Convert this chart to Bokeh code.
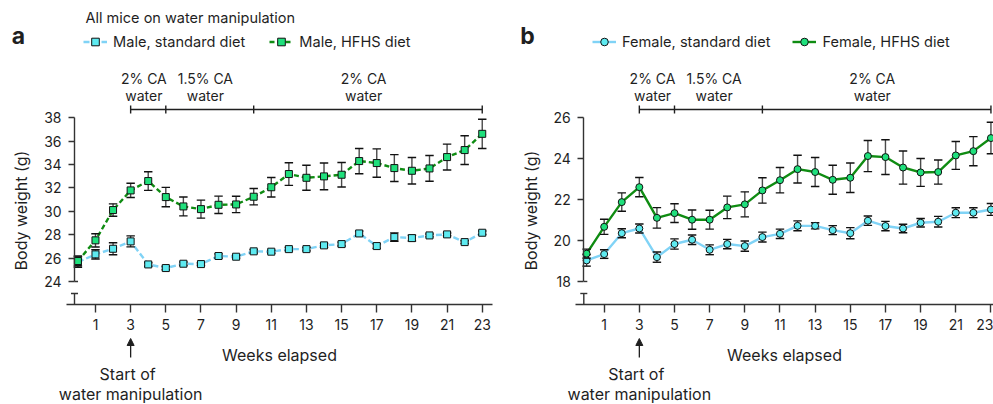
import numpy as np
from bokeh.plotting import figure
from bokeh.models import Range1d, LinearAxis, FixedTicker, Legend, LegendItem, Arrow, NormalHead
from bokeh.layouts import row
from bokeh.embed import file_html
from bokeh.resources import INLINE
from bokeh.core.properties import value

# ---------------- data ----------------
weeks = list(range(24))
x_ticks = list(range(1, 24, 2))
male_ticks = list(range(24, 39, 2))
female_ticks = list(range(18, 27, 2))

phase_starts = [3, 5, 10]
phase_ends = [5, 10, 23]
phase_line1 = ["2% CA", "1.5% CA", "2% CA"]
phase_line2 = ["water", "water", "water"]
water_start_week = 3

male_std = [25.66, 26.32, 26.80, 27.43, 25.46, 25.15, 25.52, 25.49, 26.18, 26.12, 26.58, 26.55,
            26.77, 26.77, 27.09, 27.20, 28.11, 27.03, 27.80, 27.71, 27.94, 28.03, 27.37, 28.17]
male_std_err = [0.45, 0.40, 0.51, 0.47, 0.15, 0.15, 0.15, 0.12, 0.18, 0.12, 0.15, 0.13,
                0.15, 0.15, 0.17, 0.17, 0.20, 0.20, 0.36, 0.25, 0.12, 0.12, 0.12, 0.15]
male_hfhs = [25.75, 27.52, 30.11, 31.79, 32.59, 31.22, 30.42, 30.19, 30.56, 30.59, 31.25, 32.06,
             33.19, 32.87, 32.99, 33.13, 34.30, 34.13, 33.70, 33.47, 33.67, 34.64, 35.24, 36.63]
male_hfhs_err = [0.43, 0.57, 0.53, 0.61, 0.80, 0.83, 0.81, 0.77, 0.74, 0.70, 0.70, 0.83,
                 0.97, 1.07, 1.14, 1.05, 1.08, 1.21, 1.15, 1.13, 1.10, 1.11, 1.23, 1.25]

female_std = [19.03, 19.34, 20.36, 20.59, 19.19, 19.83, 20.04, 19.55, 19.83, 19.73, 20.17, 20.33,
              20.72, 20.72, 20.51, 20.36, 20.97, 20.71, 20.59, 20.87, 20.92, 21.36, 21.36, 21.52]
female_std_err = [0.28, 0.21, 0.22, 0.22, 0.25, 0.25, 0.23, 0.24, 0.23, 0.25, 0.24, 0.23,
                  0.24, 0.15, 0.22, 0.27, 0.23, 0.23, 0.21, 0.21, 0.26, 0.24, 0.24, 0.29]
female_hfhs = [19.36, 20.67, 21.88, 22.61, 21.11, 21.34, 21.02, 21.02, 21.62, 21.77, 22.45, 22.95,
               23.49, 23.35, 22.97, 23.07, 24.13, 24.08, 23.57, 23.33, 23.35, 24.16, 24.37, 25.01]
female_hfhs_err = [0.22, 0.37, 0.45, 0.47, 0.50, 0.46, 0.47, 0.46, 0.55, 0.61, 0.62, 0.62,
                   0.68, 0.71, 0.71, 0.72, 0.76, 0.85, 0.81, 0.68, 0.59, 0.68, 0.71, 0.77]

# ---------------- style ----------------
FONT = "Inter"
TXT = "#1f1f1f"
AX = "#333333"
BLUE_LINE = "#80d3f6"
BLUE_FILL = "#5eeaf0"
GREEN_LINE = "#0f8c12"
GREEN_FILL = "#1fe07c"
PPW = 17.58
FIG_H = 404
TOP = 0


def build(spec):
    left, W, w0 = spec["left"], spec["width"], spec["week0_px"]
    yv, ypx, ppu = spec["yref_val"], spec["yref_px"], spec["ppu"]

    def wk(px):
        return (px - w0) / PPW

    def val(py):
        return yv - (py - ypx) / ppu

    p = figure(width=W, height=FIG_H,
               x_range=Range1d(wk(left), wk(left + W)),
               y_range=Range1d(val(TOP + FIG_H), val(TOP)),
               x_axis_type=None, y_axis_type=None,
               output_backend="svg", toolbar_location=None, min_border=0)
    p.outline_line_color = None
    p.background_fill_color = "white"
    p.border_fill_color = "white"

    def txt(px, py, s, size="14px", align="center", bold=False, angle=0.0):
        p.text(x=[wk(px)], y=[val(py)], text=[s], text_font=value(FONT),
               text_font_size=size, text_align=align, text_baseline="middle",
               text_color=TXT, text_font_style="bold" if bold else "normal", angle=angle)

    # x axis
    xa = LinearAxis(fixed_location=val(304),
                    bounds=(wk(spec["xaxis_l"]), wk(spec["xaxis_r"])),
                    ticker=FixedTicker(ticks=x_ticks), axis_label="Weeks elapsed")
    xa.major_tick_in = 0
    xa.major_tick_out = 8
    xa.minor_tick_in = 0
    xa.minor_tick_out = 0
    xa.axis_line_color = AX
    xa.axis_line_width = 1.4
    xa.major_tick_line_color = AX
    xa.major_tick_line_width = 1.4
    xa.major_label_text_font = FONT
    xa.major_label_text_font_size = "14px"
    xa.major_label_text_color = TXT
    xa.major_label_standoff = 6
    xa.axis_label_text_font = FONT
    xa.axis_label_text_font_size = "16px"
    xa.axis_label_text_font_style = "normal"
    xa.axis_label_text_color = TXT
    xa.axis_label_standoff = 12
    p.add_layout(xa, "below")

    # y axis (broken)
    yt = spec["yticks"]
    ax_x = wk(spec["yaxis_px"])
    ya = LinearAxis(fixed_location=ax_x, bounds=(yt[0], yt[-1]), ticker=FixedTicker(ticks=yt))
    ya.major_tick_in = 0
    ya.major_tick_out = 6
    ya.minor_tick_in = 0
    ya.minor_tick_out = 0
    ya.axis_line_color = AX
    ya.axis_line_width = 1.4
    ya.major_tick_line_color = AX
    ya.major_tick_line_width = 1.4
    ya.major_label_text_font = FONT
    ya.major_label_text_font_size = "14px"
    ya.major_label_text_color = TXT
    ya.major_label_standoff = 7
    p.add_layout(ya, "left")
    cap = 0.2
    p.segment(x0=[ax_x, ax_x - cap, ax_x], y0=[val(293), val(293), yt[0]],
              x1=[ax_x, ax_x + cap, ax_x + cap], y1=[val(304), val(293), yt[0]],
              line_color=AX, line_width=1.4)

    # series
    def series(y, err, lc, fc, marker, dash, size):
        y = np.array(y)
        e = np.array(err)
        w = np.array(weeks, dtype=float)
        ln = p.line(w, y, line_color=lc, line_width=2.4, line_dash=dash)
        p.segment(w, y - e, w, y + e, line_color="#4a4a4a", line_width=1.4)
        cw = 0.24
        p.segment(np.concatenate([w - cw, w - cw]), np.concatenate([y + e, y - e]),
                  np.concatenate([w + cw, w + cw]), np.concatenate([y + e, y - e]),
                  line_color="#111111", line_width=1.4)
        sc = p.scatter(w, y, marker=marker, size=size, fill_color=fc,
                       line_color="#111111", line_width=1)
        return [ln, sc]

    r_std = series(spec["std"], spec["std_err"], BLUE_LINE, BLUE_FILL,
                   spec["marker"], spec["dash_std"], spec["msize"])
    r_hf = series(spec["hf"], spec["hf_err"], GREEN_LINE, GREEN_FILL,
                  spec["marker"], spec["dash_hf"], spec["msize"])

    leg = Legend(items=[LegendItem(label=spec["labels"][0], renderers=r_std),
                        LegendItem(label=spec["labels"][1], renderers=r_hf)],
                 orientation="horizontal", location=spec["leg_loc"],
                 glyph_width=24, glyph_height=19, label_standoff=6, spacing=spec["leg_spacing"],
                 padding=0, margin=0, border_line_color=None, background_fill_alpha=0,
                 label_text_font=FONT, label_text_font_size="14.6px", label_text_color=TXT)
    p.add_layout(leg)

    # treatment bracket
    yb = val(109)
    p.segment(x0=[phase_starts[0]], y0=[yb], x1=[phase_ends[-1]], y1=[yb],
              line_color=TXT, line_width=1.4)
    bounds = phase_starts + [phase_ends[-1]]
    p.segment(x0=bounds, y0=[val(105)] * len(bounds), x1=bounds, y1=[val(113)] * len(bounds),
              line_color=TXT, line_width=1.4)
    for s, e_, l1, l2 in zip(phase_starts, phase_ends, phase_line1, phase_line2):
        mid_px = w0 + ((s + e_) / 2 - 0.25) * PPW
        txt(mid_px, 78, l1)
        txt(mid_px, 95, l2)

    # start arrow and note
    x3 = water_start_week
    p.add_layout(Arrow(end=NormalHead(size=7, fill_color=TXT, line_color=TXT),
                       x_start=x3, y_start=val(357), x_end=x3, y_end=val(338),
                       line_color=TXT, line_width=1.3))
    x3px = w0 + x3 * PPW
    txt(x3px - 3, 373, "Start of", size="16px")
    txt(x3px, 393, "water manipulation", size="16px")

    # y label, panel letter, header
    txt(spec["ylabel_px"], 210, "Body weight (g)", size="16px", angle=np.pi / 2)
    txt(spec["letter_px"], 35, spec["letter"], size="23px", bold=True)
    if spec.get("header"):
        txt(85, 17, spec["header"], size="14.5px", align="left")
    return p


spec_a = dict(left=0, width=500, week0_px=77.4, yref_val=38, yref_px=117.3, ppu=11.693,
              xaxis_l=66, xaxis_r=492, yaxis_px=74, yticks=male_ticks,
              std=male_std, std_err=male_std_err, hf=male_hfhs, hf_err=male_hfhs_err,
              marker="square", msize=7, dash_std="6 3", dash_hf="5 3",
              labels=["Male, standard diet", "Male, HFHS diet"],
              leg_loc=(83, 353), leg_spacing=24,
              ylabel_px=20, letter_px=18, letter="a",
              header="All mice on water manipulation")
spec_b = dict(left=500, width=493, week0_px=586.1, yref_val=26, yref_px=117.3, ppu=20.46,
              xaxis_l=575, xaxis_r=993, yaxis_px=583.3, yticks=female_ticks,
              std=female_std, std_err=female_std_err, hf=female_hfhs, hf_err=female_hfhs_err,
              marker="circle", msize=7, dash_std="solid", dash_hf="solid",
              labels=["Female, standard diet", "Female, HFHS diet"],
              leg_loc=(92, 353), leg_spacing=22,
              ylabel_px=530, letter_px=527, letter="b", header=None)

pa = build(spec_a)
pb = build(spec_b)
layout = row(pa, pb, spacing=0)

open("out.html", "w").write(file_html(layout, INLINE))
